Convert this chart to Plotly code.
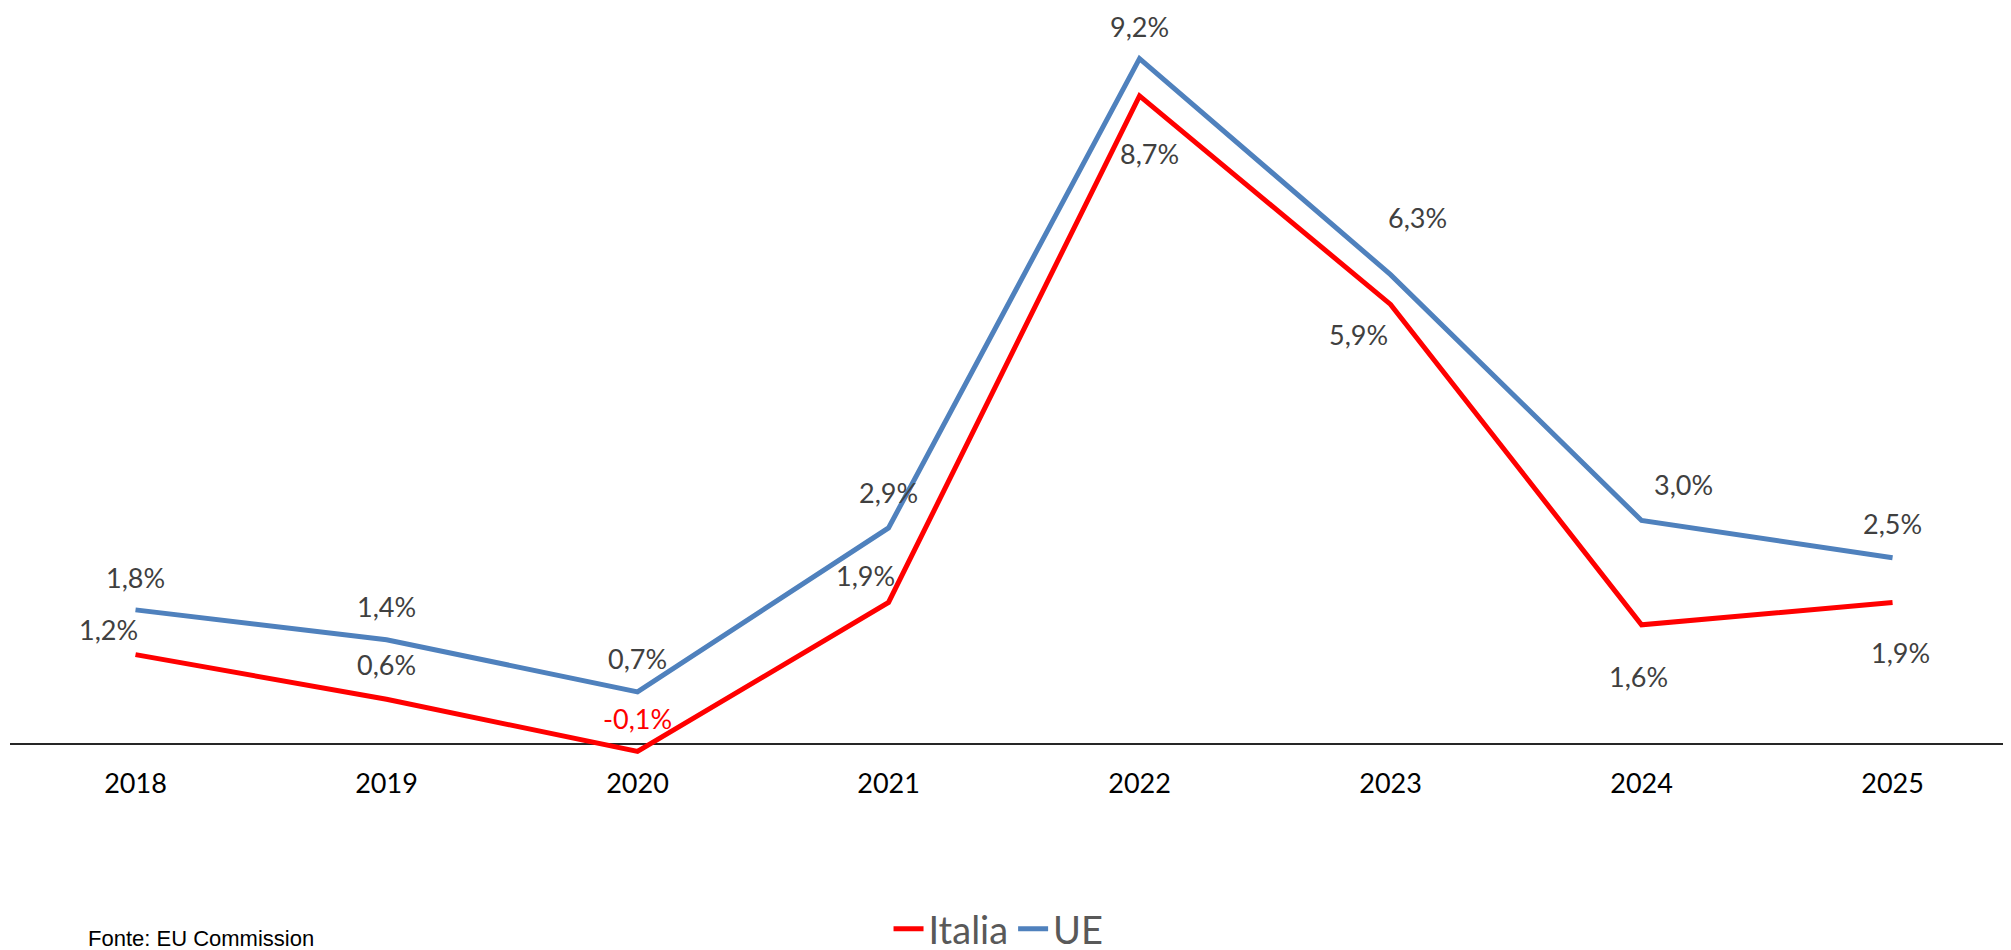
import plotly.graph_objects as go

years = ["2018", "2019", "2020", "2021", "2022", "2023", "2024", "2025"]
italia = [1.2, 0.6, -0.1, 1.9, 8.7, 5.9, 1.6, 1.9]
ue = [1.8, 1.4, 0.7, 2.9, 9.2, 6.3, 3.0, 2.5]

# label offsets in pixels (dx, dy up-positive)
italia_off = [(-27, 25), (0, 35), (0, 33), (-23, 27), (10, -58), (-32, -30), (-3, -52), (8, -50)]
ue_off = [(0, 32), (0, 33), (0, 33), (0, 35), (0, 32), (27, 57), (42, 36), (0, 34)]

RED = "#FF0000"
BLUE = "#4F81BD"
FONT = "Lato"


def fmt(v):
    return f"{v:.1f}".replace(".", ",") + "%"


fig = go.Figure()
fig.add_trace(go.Scatter(x=years, y=italia, mode="lines", name="Italia",
                         line=dict(color=RED, width=5)))
fig.add_trace(go.Scatter(x=years, y=ue, mode="lines", name="UE",
                         line=dict(color=BLUE, width=5)))

annotations = []
for i, (v, (dx, dy)) in enumerate(zip(italia, italia_off)):
    annotations.append(dict(x=i, y=v, xref="x", yref="y", text=fmt(v), showarrow=False,
                            xshift=dx, yshift=dy,
                            font=dict(family=FONT, size=27, color=RED if v < 0 else "#404040")))
for i, (v, (dx, dy)) in enumerate(zip(ue, ue_off)):
    annotations.append(dict(x=i, y=v, xref="x", yref="y", text=fmt(v), showarrow=False,
                            xshift=dx, yshift=dy,
                            font=dict(family=FONT, size=27, color="#404040")))
annotations.append(dict(x=0.038, y=-0.218, xref="paper", yref="paper", xanchor="left", yanchor="top",
                        text="Fonte: EU Commission", showarrow=False,
                        font=dict(family="Liberation Sans", size=22, color="#000000")))

fig.update_layout(
    width=1995, height=942,
    margin=dict(l=2, r=0, t=2, b=190, autoexpand=False),
    paper_bgcolor="white", plot_bgcolor="white",
    showlegend=True,
    legend=dict(orientation="h", x=0.496, xanchor="center", y=-0.2253, yanchor="middle",
                font=dict(family=FONT, size=38, color="#595959"), bgcolor="rgba(0,0,0,0)"),
    annotations=annotations,
    xaxis=dict(type="category", range=[-0.5, 7.44], showgrid=False, showline=False, ticks="",
               ticklabelstandoff=5,
               tickfont=dict(family=FONT, size=27, color="#000000"), fixedrange=True),
    yaxis=dict(range=[-0.2148, 9.852], showgrid=False, showticklabels=False, ticks="",
               zeroline=True, zerolinecolor="#262626", zerolinewidth=1.5, fixedrange=True),
)

fig.write_html("out.html")
